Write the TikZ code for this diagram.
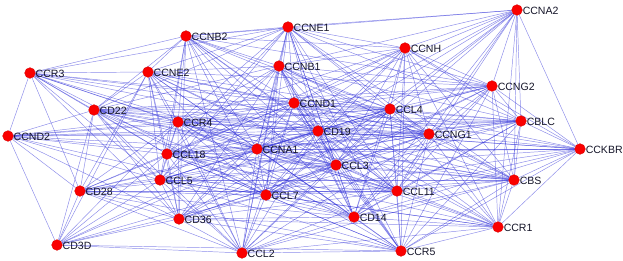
\documentclass[tikz,border=0pt]{standalone}
\usepackage{fontspec}
\setmainfont{Liberation Sans}
\usepackage{xcolor}
\definecolor{edgeblue}{RGB}{45,45,215}
\definecolor{genered}{RGB}{250,0,0}
\definecolor{labeltext}{RGB}{20,20,40}
\usetikzlibrary{positioning}

\begin{document}
\begin{tikzpicture}[x=0.03cm, y=-0.03cm,
  gene/.style={circle, fill=genered, draw=genered!85!black, line width=0.3pt,
               minimum size=0.32cm, inner sep=0pt},
  lbl/.style={font=\fontsize{9}{10}\selectfont, text=labeltext,
              inner sep=0.5pt, label distance=-0.5pt, yshift=-1pt},
  link/.style={draw=edgeblue, line width=0.4pt, opacity=0.55}
]
\useasboundingbox (0,0) rectangle (623,261);

% Gene nodes
\coordinate (p-ccna2) at (517,10);
\coordinate (p-ccne1) at (288,27);
\coordinate (p-ccnb2) at (186,36);
\coordinate (p-ccnh)  at (405,48);
\coordinate (p-ccr3)  at (30,73);
\coordinate (p-ccne2) at (148,72);
\coordinate (p-ccnb1) at (279,66);
\coordinate (p-ccng2) at (492,86);
\coordinate (p-cd22)  at (94,110);
\coordinate (p-ccnd1) at (294,103);
\coordinate (p-ccl4)  at (390,109);
\coordinate (p-ccr4)  at (178,122);
\coordinate (p-cblc)  at (521,121);
\coordinate (p-ccnd2) at (8,136);
\coordinate (p-cd19)  at (318,131);
\coordinate (p-ccng1) at (429,134);
\coordinate (p-cckbr) at (580,149);
\coordinate (p-ccl18) at (167,154);
\coordinate (p-ccna1) at (257,149);
\coordinate (p-ccl3)  at (336,165);
\coordinate (p-ccl5)  at (160,180);
\coordinate (p-cd28)  at (80,191);
\coordinate (p-ccl7)  at (266,195);
\coordinate (p-ccl11) at (397,191);
\coordinate (p-cbs)   at (514,180);
\coordinate (p-cd36)  at (179,219);
\coordinate (p-cd14)  at (354,217);
\coordinate (p-ccr1)  at (498,227);
\coordinate (p-cd3d)  at (57,245);
\coordinate (p-ccl2)  at (242,253);
\coordinate (p-ccr5)  at (401,251);

\foreach \n in {ccna2,ccne1,ccnb2,ccnh,ccr3,ccne2,ccnb1,ccng2,cd22,ccnd1,ccl4,ccr4,cblc,ccnd2,cd19,
                ccng1,cckbr,ccl18,ccna1,ccl3,ccl5,cd28,ccl7,ccl11,cbs,cd36,cd14,ccr1,cd3d,ccl2,ccr5}
  \node[gene, opacity=0] (\n) at (p-\n) {};

% Interactions
\foreach \t in {ccne1,ccnb2,ccnh,ccnb1,ccng2,ccnd1,ccl4,cblc,cd19,ccng1,cckbr,ccna1,ccl3,ccl11,cbs,ccl7,cd14,ccr1}
  \draw[link] (ccna2) -- (\t);
\foreach \t in {ccnb2,ccnh,ccr3,ccne2,ccnb1,ccng2,cd22,ccnd1,ccl4,ccr4,cblc,cd19,ccng1,ccl18,ccna1,ccl3,ccl5,ccl7,ccl11,cd14,cbs,ccr5,ccl2}
  \draw[link] (ccne1) -- (\t);
\foreach \t in {ccnh,ccr3,ccne2,ccnb1,ccng2,cd22,ccnd1,ccl4,ccr4,cd19,ccng1,ccl18,ccna1,ccl3,ccl5,ccl7,cd36,ccl11,cd14,ccl2}
  \draw[link] (ccnb2) -- (\t);
\foreach \t in {ccnb1,ccng2,ccnd1,ccl4,ccr4,cblc,cd19,ccng1,cckbr,ccna1,ccl3,ccl7,ccl11,cbs,cd14,ccr1,ccr5,ccl18}
  \draw[link] (ccnh) -- (\t);
\foreach \t in {ccne2,cd22,ccnd1,ccr4,ccnd2,cd19,ccl18,ccna1,ccl3,ccl5,cd28,ccl7,cd36,ccng1,ccl4}
  \draw[link] (ccr3) -- (\t);
\foreach \t in {ccnb1,cd22,ccnd1,ccl4,ccr4,cd19,ccng1,ccl18,ccna1,ccl3,ccl5,cd28,ccl7,cd36,cd14,cd3d,ccl2,ccl11,ccng2}
  \draw[link] (ccne2) -- (\t);
\foreach \t in {ccng2,cd22,ccnd1,ccl4,ccr4,cblc,cd19,ccng1,ccl18,ccna1,ccl3,ccl5,ccl7,ccl11,cbs,cd36,cd14,ccr1,ccr5,ccl2}
  \draw[link] (ccnb1) -- (\t);
\foreach \t in {ccnd1,ccl4,ccr4,cblc,cd19,ccng1,cckbr,ccna1,ccl3,ccl11,cbs,cd14,ccr1,ccr5,ccl7,cd22}
  \draw[link] (ccng2) -- (\t);
\foreach \t in {ccnd1,ccl4,ccr4,cblc,ccnd2,cd19,ccng1,ccl18,ccna1,ccl3,ccl5,cd28,ccl7,ccl11,cbs,cd36,cd14,cd3d,ccl2}
  \draw[link] (cd22) -- (\t);
\foreach \t in {ccl4,ccr4,cblc,ccnd2,cd19,ccng1,cckbr,ccl18,ccna1,ccl3,ccl5,cd28,ccl7,ccl11,cbs,cd36,cd14,ccr1,ccl2,ccr5}
  \draw[link] (ccnd1) -- (\t);
\foreach \t in {ccr4,cblc,ccnd2,cd19,ccng1,cckbr,ccl18,ccna1,ccl3,ccl5,ccl7,ccl11,cbs,cd36,cd14,ccr1,ccl2,ccr5}
  \draw[link] (ccl4) -- (\t);
\foreach \t in {cblc,ccnd2,cd19,ccng1,ccl18,ccna1,ccl3,ccl5,cd28,ccl7,ccl11,cbs,cd36,cd14,cd3d,ccl2,ccr5,cckbr}
  \draw[link] (ccr4) -- (\t);
\foreach \t in {cd19,ccng1,cckbr,ccna1,ccl3,ccl11,cbs,cd14,ccr1,ccr5,ccl7,ccl18,ccnd2}
  \draw[link] (cblc) -- (\t);
\foreach \t in {cd19,ccng1,ccl18,ccna1,ccl5,cd28,ccl7,cd36,cd3d,ccl3}
  \draw[link] (ccnd2) -- (\t);
\foreach \t in {ccng1,cckbr,ccl18,ccna1,ccl3,ccl5,cd28,ccl7,ccl11,cbs,cd36,cd14,ccr1,cd3d,ccl2,ccr5}
  \draw[link] (cd19) -- (\t);
\foreach \t in {cckbr,ccl18,ccna1,ccl3,ccl5,ccl7,ccl11,cbs,cd36,cd14,ccr1,ccl2,ccr5,cd28}
  \draw[link] (ccng1) -- (\t);
\foreach \t in {ccna1,ccl3,ccl11,cbs,cd14,ccr1,ccr5,ccl7,ccl18}
  \draw[link] (cckbr) -- (\t);
\foreach \t in {ccna1,ccl3,ccl5,cd28,ccl7,ccl11,cbs,cd36,cd14,ccr1,cd3d,ccl2,ccr5}
  \draw[link] (ccl18) -- (\t);
\foreach \t in {ccl3,ccl5,cd28,ccl7,ccl11,cbs,cd36,cd14,ccr1,cd3d,ccl2,ccr5}
  \draw[link] (ccna1) -- (\t);
\foreach \t in {ccl5,cd28,ccl7,ccl11,cbs,cd36,cd14,ccr1,cd3d,ccl2,ccr5}
  \draw[link] (ccl3) -- (\t);
\foreach \t in {cd28,ccl7,ccl11,cbs,cd36,cd14,ccr1,cd3d,ccl2,ccr5}
  \draw[link] (ccl5) -- (\t);
\foreach \t in {ccl7,ccl11,cd36,cd14,cd3d,ccl2,ccr5}
  \draw[link] (cd28) -- (\t);
\foreach \t in {ccl11,cbs,cd36,cd14,ccr1,cd3d,ccl2,ccr5}
  \draw[link] (ccl7) -- (\t);
\foreach \t in {cbs,cd36,cd14,ccr1,ccl2,ccr5}
  \draw[link] (ccl11) -- (\t);
\foreach \t in {cd14,ccr1,ccr5,ccl2}
  \draw[link] (cbs) -- (\t);
\foreach \t in {cd14,ccr1,cd3d,ccl2,ccr5}
  \draw[link] (cd36) -- (\t);
\foreach \t in {ccr1,ccl2,ccr5}
  \draw[link] (cd14) -- (\t);
\foreach \t in {ccl2,ccr5}
  \draw[link] (ccr1) -- (\t);
\foreach \t in {ccl2,ccr5}
  \draw[link] (cd3d) -- (\t);
\draw[link] (ccl2) -- (ccr5);

% Dots and labels on top
\foreach \n/\s in {ccna2/CCNA2,ccne1/CCNE1,ccnb2/CCNB2,ccnh/CCNH,ccr3/CCR3,ccne2/CCNE2,ccnb1/CCNB1,
                   ccng2/CCNG2,cd22/CD22,ccnd1/CCND1,ccl4/CCL4,ccr4/CCR4,cblc/CBLC,ccnd2/CCND2,cd19/CD19,
                   ccng1/CCNG1,cckbr/CCKBR,ccl18/CCL18,ccna1/CCNA1,ccl3/CCL3,ccl5/CCL5,cd28/CD28,ccl7/CCL7,
                   ccl11/CCL11,cbs/CBS,cd36/CD36,cd14/CD14,ccr1/CCR1,cd3d/CD3D,ccl2/CCL2,ccr5/CCR5}
  \node[gene, label={[lbl]east:\s}] at (\n) {};
\end{tikzpicture}
\end{document}
